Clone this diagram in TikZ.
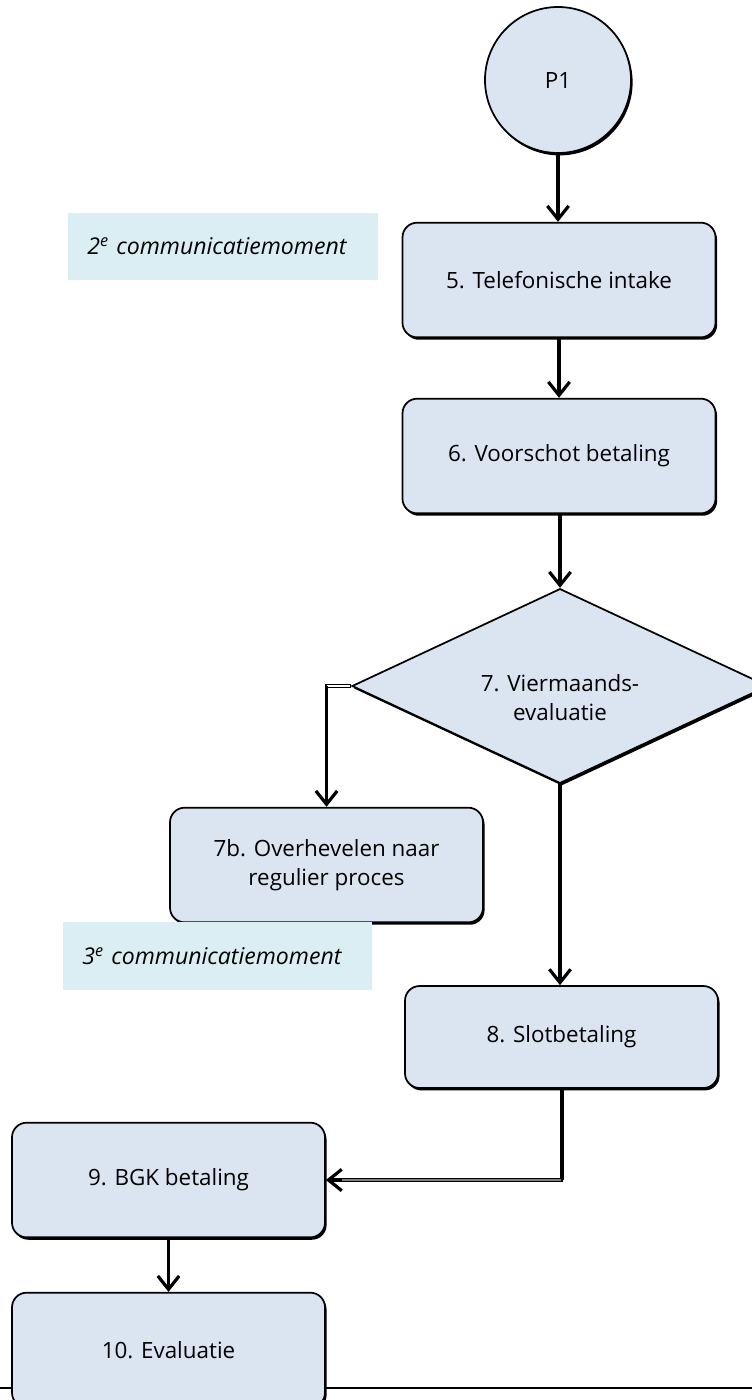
\documentclass[tikz,border=0pt]{standalone}
\usepackage{fontspec}
\setmainfont{Open Sans}
\usetikzlibrary{arrows.meta,shapes.geometric,shadows,calc}
\definecolor{boxfill}{HTML}{DBE5F1}
\definecolor{notefill}{HTML}{DAEEF3}
\begin{document}
\begin{tikzpicture}[x=0.75pt,y=-0.75pt,
  base/.style={draw=black, line width=1.3pt, fill=boxfill, align=center, inner sep=0pt,
    font=\fontsize{16.8}{22}\selectfont,
    drop shadow={shadow xshift=1.2pt,shadow yshift=-1.8pt,opacity=1,fill=black}},
  proc/.style={base, rectangle, rounded corners=11pt, minimum width=234.75pt, minimum height=86pt},
  startnode/.style={base, circle, minimum width=109.5pt, minimum height=109.5pt},
  decision/.style={base, diamond, minimum width=312pt, minimum height=146pt, aspect=2.13},
  note/.style={fill=notefill, rectangle, align=left, inner xsep=14.5pt, inner ysep=0pt,
    font=\fontsize{17.3}{22}\itshape},
  tip/.style={-{Straight Barb[length=10pt,width=16pt,line width=2.4pt]}},
  conn/.style={line width=2.4pt, tip},
  plain/.style={line width=2.4pt},
  dbl/.style={line width=2.8pt}
]
\useasboundingbox (0,0) rectangle (752,1400);

% bottom rule
\coordinate (bl) at (0,1388);
\coordinate (br) at (752,1388);
\draw[line width=1.4pt] (bl) -- (br);

% nodes
\node[startnode] (p1) at (558,80) {P1};
\node[proc] (b5) at (559,280) {5. Telefonische intake};
\node[proc] (b6) at (559,456) {6. Voorschot betaling};
\node[decision] (d7) at (560,686) {\\[8pt]7. Viermaands-\\evaluatie};
\node[proc] (b7b) at (326.5,865) {7b. Overhevelen naar\\regulier proces};
\node[proc, minimum height=76.5pt] (b8) at (561.5,1037) {8. Slotbetaling};
\node[proc] (b9) at (168.5,1180) {9. BGK betaling};
\node[proc] (b10) at (168.5,1350) {10. Evaluatie};

\node[note, minimum width=232.5pt, minimum height=50.25pt, text width=203.5pt] (n2) at (223,246.5)
  {2\textsuperscript{e} communicatiemoment};
\node[note, minimum width=231.75pt, minimum height=51pt, text width=202.75pt] (n3) at (217.5,956)
  {3\textsuperscript{e} communicatiemoment};

% connectors
\draw[conn] (p1.south) -- (p1.south |- b5.north);
\draw[conn] (b5.south) -- (b5.south |- b6.north);
\draw[conn] (b6.south) -- (b6.south -| d7.north) -- (d7.north);

% left branch
\coordinate (lc) at (b7b.north |- d7.west);
\draw[dbl] (d7.west) -- ($(lc)+(-1.2,0)$);
\draw[white, line width=0.8pt] ($(d7.west)+(-1,0)$) -- (lc);
\draw[conn] (lc) -- (b7b.north);

% right branch
\draw[conn] (d7.south) -- (d7.south |- b8.north);

% 8 -> 9
\coordinate (c89) at ($(b8.south)+(0.5,0)$);
\coordinate (k89) at (c89 |- b9.east);
\draw[plain] (c89) -- (k89);
\draw[dbl, tip] ($(k89)+(1.2,0)$) -- (b9.east);
\draw[gray, line width=1pt] ($(k89)+(-1.2,0)$) -- ($(b9.east)+(16,0)$);

\draw[conn] (b9.south) -- (b10.north);
\end{tikzpicture}
\end{document}
